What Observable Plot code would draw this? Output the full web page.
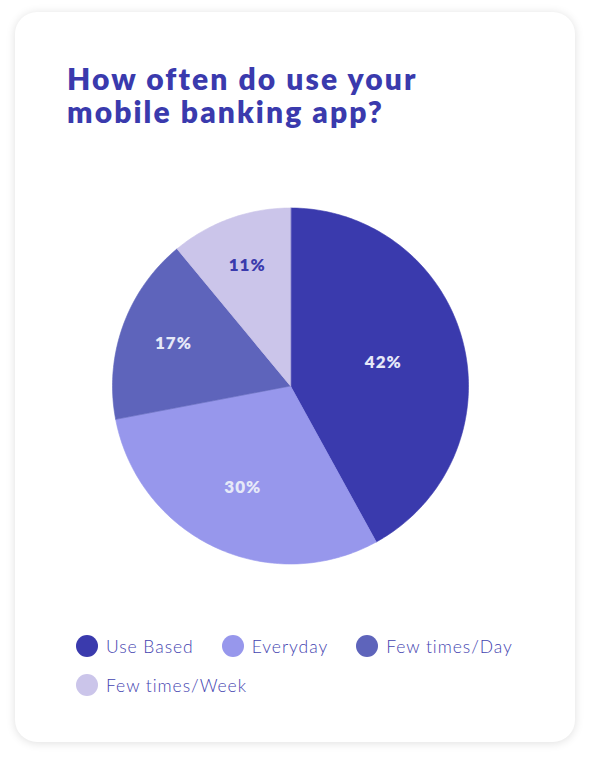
<!DOCTYPE html>
<html>
<head>
<meta charset="utf-8">
<script src="https://cdn.jsdelivr.net/npm/d3@7"></script>
<script src="https://cdn.jsdelivr.net/npm/@observablehq/plot@0.6"></script>
<style>
  html, body { margin: 0; padding: 0; background: #ffffff; }
  body { width: 590px; height: 759px; position: relative; overflow: hidden; font-family: Lato, "Open Sans", sans-serif; }
  .card {
    position: absolute; left: 15px; top: 12px; width: 560px; height: 730px;
    background: #fff; border-radius: 22px;
    box-shadow: 0 1px 10px rgba(0,0,0,0.13);
  }
  .title {
    position: absolute; left: 52px; top: 50px; margin: 0;
    font-family: Lato, sans-serif; font-weight: 800; font-size: 30px;
    line-height: 33px; color: #3a3aad; letter-spacing: 2.1px;
  }
  #chart { position: absolute; left: 0; top: 188px; }
  .legend {
    position: absolute; left: 61px; top: 623px; width: 490px;
    display: flex; flex-wrap: wrap; row-gap: 17px;
  }
  .item { display: flex; align-items: center; margin-right: 28px; height: 22px;
    font-family: Lato, sans-serif; font-weight: 300; font-size: 17.5px; color: #4444b0; letter-spacing: 0.95px; }
  .dot { width: 22px; height: 22px; border-radius: 50%; margin-right: 8px; }
</style>
</head>
<body>
<div class="card">
  <h1 class="title" id="title"></h1>
  <div id="chart"></div>
  <div class="legend" id="legend"></div>
</div>
<script>
// ---- data ----
const title = "How often do use your mobile banking app?";
const categories = ["Use Based", "Everyday", "Few times/Day", "Few times/Week"];
const values = [42, 30, 17, 11];
const colors = ["#3a3aad", "#9797ec", "#5e64bb", "#cbc5ea"];
const labelLight = "#e6e9f8";
const labelDark = "#3a3aad";

// ---- title ----
document.getElementById("title").innerHTML = "How often do use your<br>mobile banking app?";

// ---- geometry (unit circle in data space) ----
const total = d3.sum(values);
const slices = [];
const labels = [];
let cum = 0;
values.forEach((v, i) => {
  const a0 = (cum / total) * 2 * Math.PI;
  const a1 = ((cum + v) / total) * 2 * Math.PI;
  cum += v;
  const cat = categories[i];
  slices.push({cat, x: 0, y: 0});
  const n = Math.max(2, Math.ceil((a1 - a0) / (Math.PI / 180)));
  for (let k = 0; k <= n; k++) {
    const a = a0 + (a1 - a0) * k / n;
    slices.push({cat, x: Math.sin(a), y: Math.cos(a)});
  }
  const th = a1 - a0;
  const centroid = (2 * Math.sin(th / 2)) / (1.5 * th);
  const r = centroid * 1.1;
  const am = (a0 + a1) / 2;
  const lum = d3.lab(colors[i]).l;
  labels.push({
    cat, text: `${v}%`,
    x: r * Math.sin(am), y: r * Math.cos(am),
    light: lum < 75
  });
});

const R = 178;
const cx = 275, W = 560;
const cy = 185.5, H = 380;

const plot = Plot.plot({
  width: W,
  height: H,
  marginLeft: cx - R,
  marginRight: W - cx - R,
  marginTop: cy - R,
  marginBottom: H - cy - R,
  x: {domain: [-1, 1], axis: null},
  y: {domain: [-1, 1], axis: null},
  color: {domain: categories, range: colors},
  style: {background: "transparent", overflow: "visible"},
  marks: [
    Plot.line(slices, {x: "x", y: "y", z: "cat", fill: "cat", stroke: "cat", strokeWidth: 0.6, curve: "linear-closed"}),
    Plot.text(labels.filter(d => d.light), {x: "x", y: "y", text: "text", fill: labelLight, fontSize: 17, fontWeight: 800, fontFamily: "Lato, sans-serif"}),
    Plot.text(labels.filter(d => !d.light), {x: "x", y: "y", text: "text", fill: labelDark, fontSize: 17, fontWeight: 800, fontFamily: "Lato, sans-serif"})
  ]
});
plot.querySelectorAll("text").forEach(t => t.style.letterSpacing = "1px");
document.getElementById("chart").appendChild(plot);

// ---- legend ----
const legend = document.getElementById("legend");
categories.forEach((c, i) => {
  const it = document.createElement("div");
  it.className = "item";
  const dot = document.createElement("span");
  dot.className = "dot";
  dot.style.background = colors[i];
  it.appendChild(dot);
  it.appendChild(document.createTextNode(c));
  legend.appendChild(it);
});
</script>
</body>
</html>
